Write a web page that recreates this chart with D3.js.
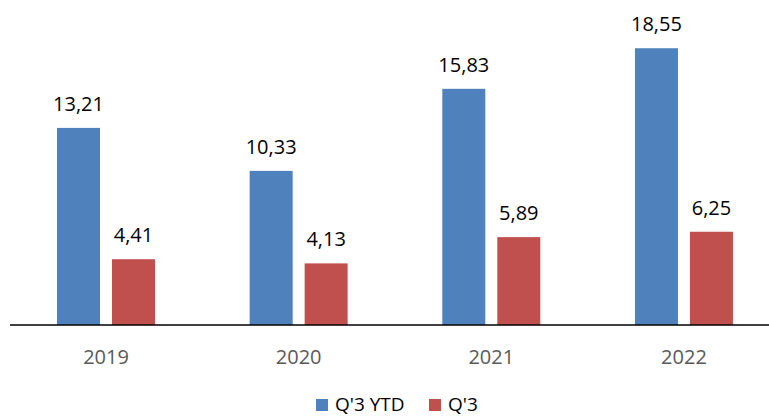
<!DOCTYPE html>
<html lang="en">
  <head>
    <meta charset="utf-8" />
    <title>Q'3 YTD vs Q'3</title>
    <script src="https://d3js.org/d3.v7.min.js"></script>
    <style>
      body {
        margin: 0;
        background: #fff;
        font-family: 'Open Sans', 'Noto Sans', sans-serif;
      }
      svg {
        display: block;
      }
    </style>
  </head>
  <body>
    <div id="chart"></div>
    <script>
      /* ----------------------------- DATA ----------------------------- */
      const years = ['2019', '2020', '2021', '2022'];
      const seriesNames = ["Q'3 YTD", "Q'3"];
      const ytdValues = [13.21, 10.33, 15.83, 18.55];
      const q3Values = [4.41, 4.13, 5.89, 6.25];
      const colors = ['#4F81BD', '#C0504D'];

      /* ---------------------------- LAYOUT ---------------------------- */
      const W = 769,
        H = 418,
        baseY = 325;

      const svg = d3
        .select('#chart')
        .append('svg')
        .attr('width', W)
        .attr('height', H);

      const rows = years.map((yr, i) => ({
        yr,
        vals: [ytdValues[i], q3Values[i]],
      }));

      /* ---------------------------- SCALES ---------------------------- */
      const x = d3.scaleBand().domain(years).range([9.7, 780.3]);
      const xs = d3
        .scaleBand()
        .domain(seriesNames)
        .range([47.3, 145.3])
        .paddingInner(0.218);
      const y = d3.scaleLinear().domain([0, 20]).range([baseY, baseY - 298.4]);
      const fmt = (v) => d3.format('.2f')(v).replace('.', ',');

      /* ----------------------------- BARS ----------------------------- */
      const grp = svg
        .selectAll('g.year')
        .data(rows)
        .join('g')
        .attr('class', 'year')
        .attr('transform', (d) => `translate(${x(d.yr)},0)`);

      const cells = grp
        .selectAll('g.cell')
        .data((d) => d.vals.map((v, j) => ({ v, s: seriesNames[j], j })))
        .join('g')
        .attr('class', 'cell');

      cells
        .append('rect')
        .attr('x', (d) => xs(d.s))
        .attr('y', (d) => y(d.v))
        .attr('width', xs.bandwidth())
        .attr('height', (d) => baseY - y(d.v))
        .attr('fill', (d) => colors[d.j]);

      cells
        .append('text')
        .attr('x', (d) => xs(d.s) + xs.bandwidth() / 2)
        .attr('y', (d) => y(d.v) - 17)
        .attr('text-anchor', 'middle')
        .attr('font-size', 20)
        .attr('fill', '#000')
        .text((d) => fmt(d.v));

      /* ----------------------------- AXIS ----------------------------- */
      svg
        .append('line')
        .attr('x1', 10)
        .attr('x2', W)
        .attr('y1', baseY)
        .attr('y2', baseY)
        .attr('stroke', '#000')
        .attr('stroke-width', 1.5);

      svg
        .selectAll('text.cat')
        .data(years)
        .join('text')
        .attr('class', 'cat')
        .attr('x', (d) => x(d) + x.bandwidth() / 2)
        .attr('y', 364)
        .attr('text-anchor', 'middle')
        .attr('font-size', 20)
        .attr('fill', '#595959')
        .text((d) => d);

      /* ---------------------------- LEGEND ---------------------------- */
      const legendX = [316, 429];
      const leg = svg
        .selectAll('g.leg')
        .data(seriesNames)
        .join('g')
        .attr('class', 'leg')
        .attr('transform', (_, i) => `translate(${legendX[i]},399)`);

      leg
        .append('rect')
        .attr('width', 12)
        .attr('height', 12)
        .attr('fill', (_, i) => colors[i]);

      leg
        .append('text')
        .attr('x', 19)
        .attr('y', 12)
        .attr('font-size', 19)
        .attr('fill', '#000')
        .text((d) => d);
    </script>
  </body>
</html>
